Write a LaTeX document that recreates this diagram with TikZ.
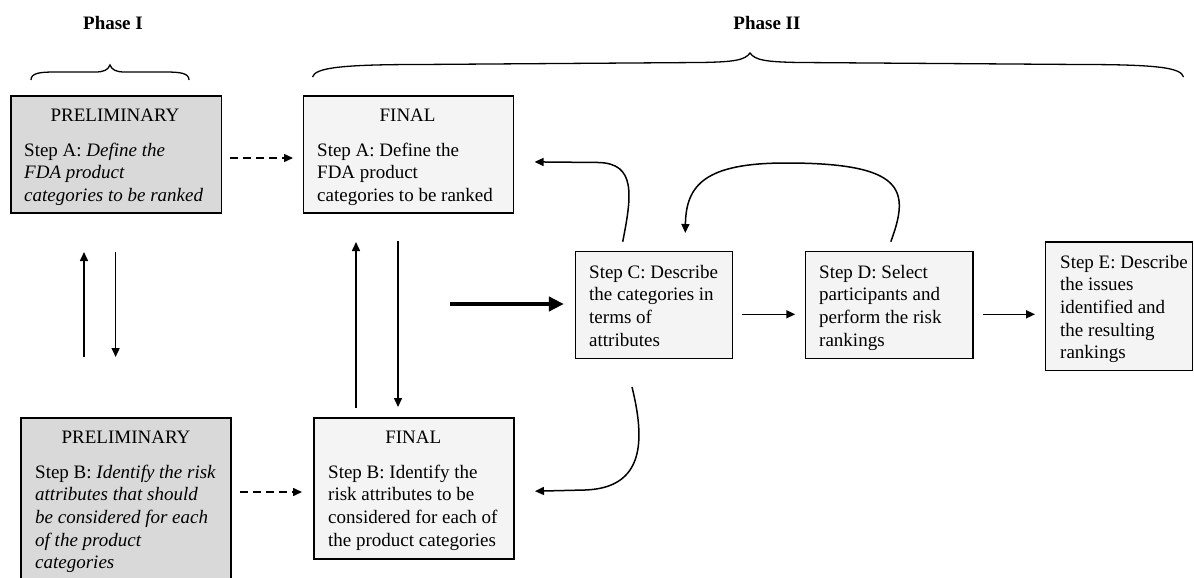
\documentclass[tikz,border=0pt]{standalone}
\usepackage{fontspec}
\setmainfont{Liberation Serif}
\usetikzlibrary{arrows.meta}
\definecolor{prelimfill}{HTML}{D9D9D9}
\definecolor{finalfill}{HTML}{F4F4F4}
\newcommand{\dfont}{\fontsize{19}{22.7}\selectfont}
\begin{document}
\begin{tikzpicture}[x=1pt, y=-1pt, font=\dfont,
  box/.style={draw, line width=1.3pt, inner sep=0pt, outer sep=0pt},
  prelim/.style={box, fill=prelimfill},
  final/.style={box, fill=finalfill},
  head/.style={anchor=base, inner sep=0pt},
  body/.style={anchor=north west, align=left, inner sep=0pt},
  phase/.style={anchor=base, inner sep=0pt, font=\dfont\bfseries},
  arr/.style={line width=1.5pt, -{Triangle[length=9pt,width=8pt]}},
  dasharr/.style={arr, dash pattern=on 8pt off 5pt},
  thickarr/.style={line width=4.3pt, -{Triangle[length=15pt,width=14pt]}},
  bracestyle/.style={line width=1.3pt}]
\useasboundingbox (0,0) rectangle (1194,578);
\clip (0,0) rectangle (1194,578);
\fill[white] (0,0) rectangle (1194,578);

% phase labels and braces
\node[phase] (ph1) at (113,29.3) {Phase I};
\node[phase] (ph2) at (767,29.3) {Phase II};
\draw[bracestyle] (31,80) .. controls (31,73) and (40,72) .. (55,72) -- (95,72)
  .. controls (104,72) and (108,70) .. (110,65)
  .. controls (112,70) and (116,72) .. (125,72) -- (165,72)
  .. controls (180,72) and (189,73) .. (189,80);
\draw[bracestyle] (312.5,77) .. controls (315,68) and (340,64.5) .. (420,64.5) -- (700,62.5)
  .. controls (735,62) and (745,60) .. (750,53)
  .. controls (755,60) and (765,62) .. (800,62.5) -- (1080,64.5)
  .. controls (1160,64.5) and (1181,68) .. (1183.5,77);

% boxes
\node[prelim, minimum width=210.3, minimum height=117] (PA) at (116,154.5) {};
\node[final, minimum width=210, minimum height=117] (FA) at (408.5,154.5) {};
\node[prelim, minimum width=210, minimum height=172] (PB) at (126,504) {};
\node[final, minimum width=200, minimum height=141] (FB) at (414,488.5) {};
\node[final, minimum width=157, minimum height=106.6] (C) at (654,305) {};
\node[final, minimum width=167.3, minimum height=106.6] (D) at (889.2,305) {};
\node[final, minimum width=147, minimum height=128.7] (E) at (1119.2,306.3) {};

% texts
\node[head] (PAh) at (115,121.5) {PRELIMINARY};
\node[body] (PAb) at (24,140.1) {\strut Step A: \textit{Define the}\\\textit{FDA product}\\\textit{categories to be ranked}};
\node[head] (FAh) at (407.6,121.5) {FINAL};
\node[body] (FAb) at (317,140.1) {\strut Step A: Define the\\FDA product\\categories to be ranked};
\node[head] (PBh) at (126,443.3) {PRELIMINARY};
\node[body] (PBb) at (35,462.1) {\strut Step B: \textit{Identify the risk}\\\textit{attributes that should}\\\textit{be considered for each}\\\textit{of the product}\\\textit{categories}};
\node[head] (FBh) at (413.3,443.3) {FINAL};
\node[body] (FBb) at (328,462.1) {\strut Step B: Identify the\\risk attributes to be\\considered for each of\\the product categories};
\node[body] (Cb) at (589,262.1) {\strut Step C: Describe\\the categories in\\terms of\\attributes};
\node[body] (Db) at (819,262.1) {\strut Step D: Select\\participants and\\perform the risk\\rankings};
\node[body] (Eb) at (1060,252.1) {\strut Step E: Describe\\the issues\\identified and\\the resulting\\rankings};

% dashed arrows
\draw[dasharr, shorten <=9pt, shorten >=10.5pt] ([yshift=-3.5pt]PA.east) -- ([yshift=-3.5pt]FA.west);
\draw[dasharr, shorten <=9pt, shorten >=12pt] ([yshift=12pt]PB.east) -- ([yshift=-3.5pt]FB.west);

% vertical arrows
\draw[arr, shorten <=61pt, shorten >=39pt] ([xshift=-42pt]PB.north) -- ([xshift=-32pt]PA.south);
\draw[arr, shorten <=39pt, shorten >=61pt] ([xshift=-0.4pt]PA.south) -- ([xshift=-10.4pt]PB.north);
\draw[arr, shorten <=10pt, shorten >=29pt] ([xshift=-58pt]FB.north) -- ([xshift=-52.5pt]FA.south);
\draw[arr, shorten <=28pt, shorten >=11pt] ([xshift=-10.5pt]FA.south) -- ([xshift=-16pt]FB.north);

% main flow
\coordinate (thk) at (450,304);
\draw[thickarr, shorten >=11.6pt] (thk) -- ([yshift=1pt]C.west);
\draw[arr, shorten <=9.6pt, shorten >=10.3pt] ([yshift=-9.3pt]C.east) -- ([yshift=-9.3pt]D.west);
\draw[arr, shorten <=9.7pt, shorten >=10.7pt] ([yshift=-9.3pt]D.east) -- ([yshift=-8pt]E.west);

% curved feedback arrows
\draw[arr, shorten >=21.1pt] ([xshift=-31.3pt,yshift=10pt]C.north)
  .. controls (632,195) and (636,163) .. (598,162.5) -- ([yshift=-7.2pt]FA.east);
\draw[arr, shorten >=18.7pt] ([xshift=1.6pt,yshift=10pt]D.north)
  .. controls (910,190) and (905,163) .. (786,163)
  .. controls (705,163) and (686,185) .. ([xshift=31pt]C.north);
\draw[arr, shorten >=21pt] ([xshift=-22pt,yshift=-28.7pt]C.south)
  .. controls (645,440) and (645,488) .. (585,490) -- ([yshift=-3.2pt]FB.east);
\end{tikzpicture}
\end{document}
